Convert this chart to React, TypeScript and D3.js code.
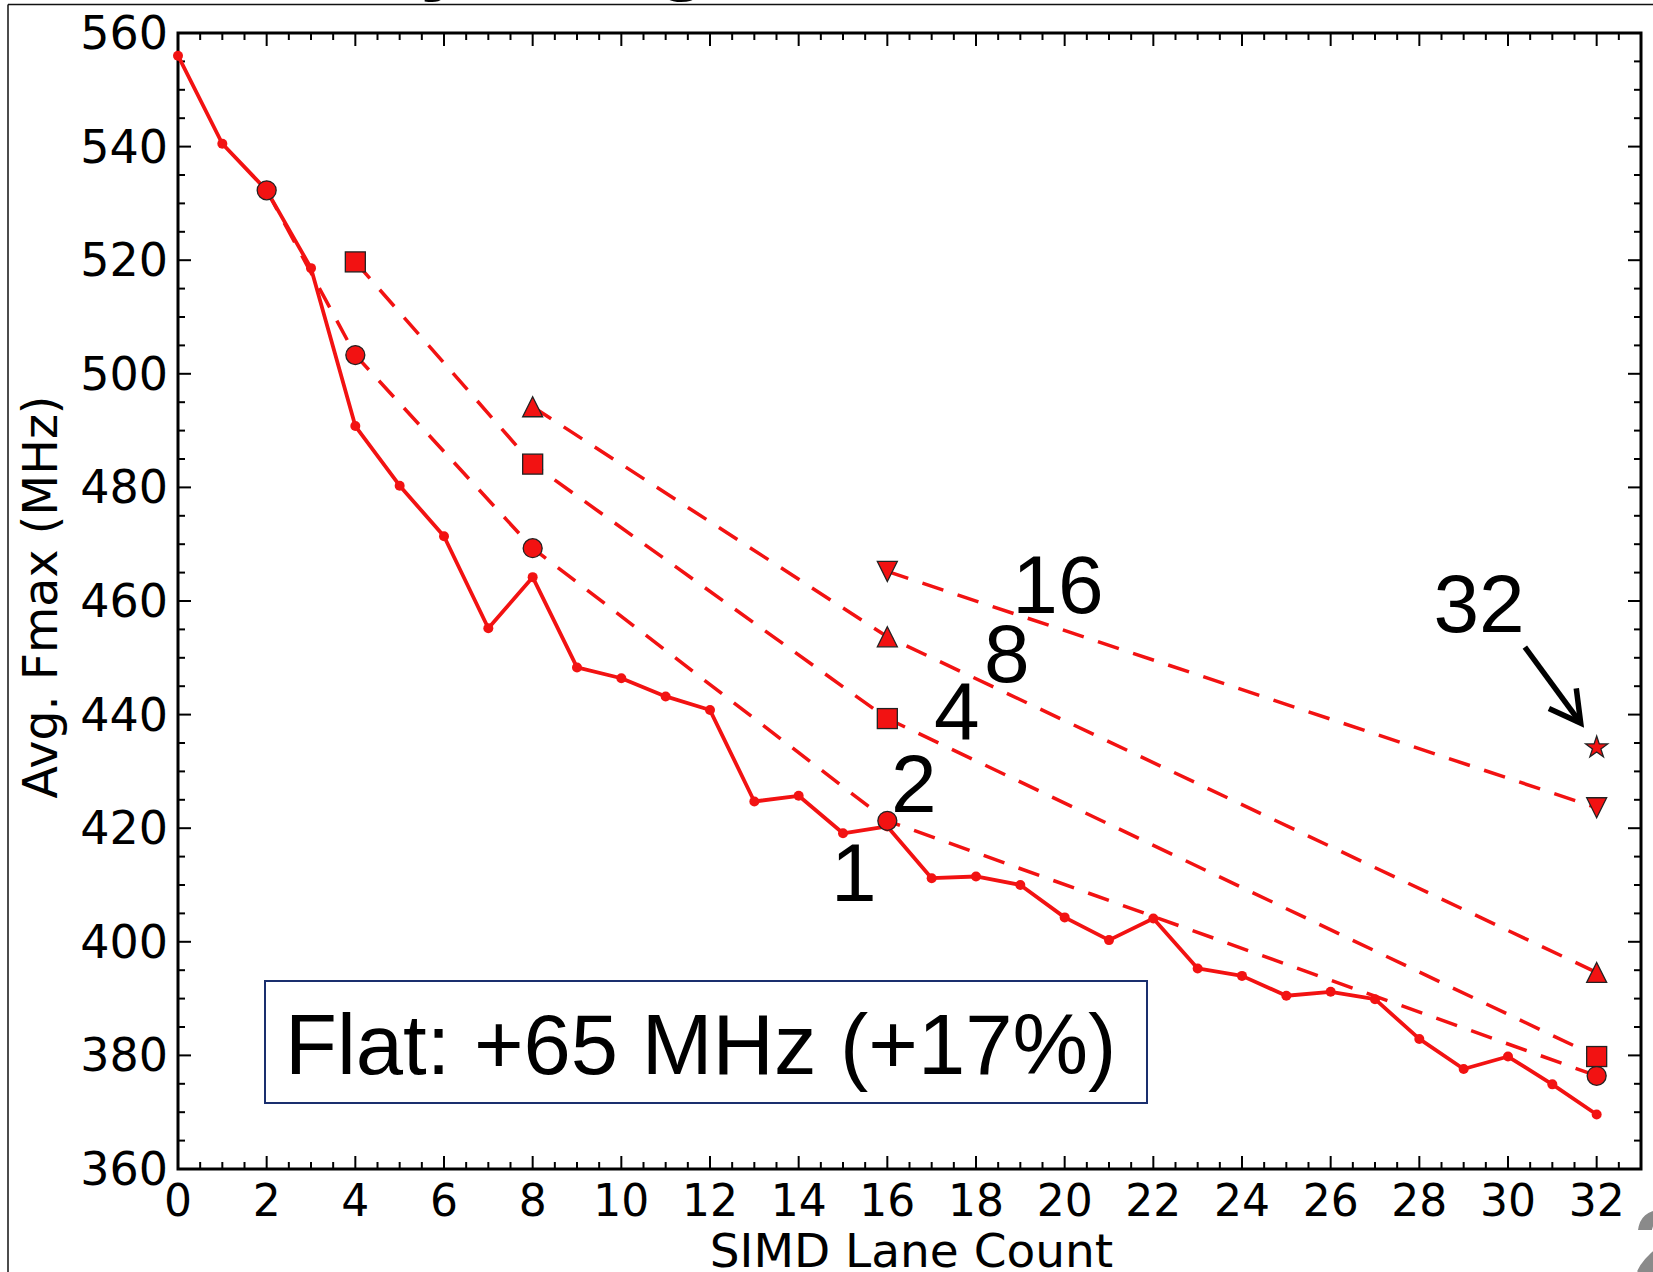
import React, { useEffect } from 'react';
import * as d3 from 'd3';

// ---- data ----
const laneCounts = [0, 1, 2, 3, 4, 5, 6, 7, 8, 9, 10, 11, 12, 13, 14, 15, 16, 17, 18, 19, 20, 21, 22, 23, 24, 25, 26, 27, 28, 29, 30, 31, 32];
const flatFmax = [556.0, 540.5, 532.3, 518.6, 490.8, 480.3, 471.4, 455.2, 464.2, 448.3, 446.4, 443.2, 440.8, 424.7, 425.7, 419.1, 420.3, 411.2, 411.5, 410.0, 404.3, 400.3, 404.1, 395.3, 394.0, 390.5, 391.2, 389.9, 382.9, 377.6, 379.8, 374.9, 369.6];

const group2X = [2, 4, 8, 16, 32];
const group2Y = [532.3, 503.3, 469.3, 421.3, 376.4];
const group4X = [4, 8, 16, 32];
const group4Y = [519.7, 484.1, 439.3, 379.8];
const group8X = [8, 16, 32];
const group8Y = [494.2, 453.7, 394.6];
const group16X = [16, 32];
const group16Y = [465.2, 423.6];
const group32X = [32];
const group32Y = [434.2];

const groupLabels = ['1', '2', '4', '8', '16', '32'];
const groupLabelX = [14.73, 16.08, 17.05, 18.18, 18.82, 28.32];
const groupLabelY = [407.1, 422.9, 435.5, 445.8, 457.9, 454.6];

const arrowFrom = [30.38, 451.9];
const arrowTo = [31.64, 438.5];

const xTickLabels = ['0', '2', '4', '6', '8', '10', '12', '14', '16', '18', '20', '22', '24', '26', '28', '30', '32'];
const yTickLabels = ['360', '380', '400', '420', '440', '460', '480', '500', '520', '540', '560'];

const xTitle = 'SIMD Lane Count';
const yTitle = 'Avg. Fmax (MHz)';
const boxText = 'Flat: +65 MHz (+17%)';

// ---- layout ----
const W = 1653;
const H = 1272;
const L = 178, R = 1641, T = 33, B = 1169;
const RED = '#f21212';
const DEJAVU = '"DejaVu Sans", sans-serif';
const ARIAL = '"Liberation Sans", Arial, sans-serif';

const x = d3.scaleLinear().domain([0, 33]).range([L, R]);
const y = d3.scaleLinear().domain([360, 560]).range([B, T]);

const pts = (xs: number[], ys: number[]) => xs.map((v, i) => [v, ys[i]] as [number, number]);
const lineGen = d3.line<[number, number]>().x(d => x(d[0])).y(d => y(d[1]));

const triUp = 'M0,-10L10,10L-10,10Z';
const triDown = 'M0,10L10,-10L-10,-10Z';
const star = d3.symbol(d3.symbolStar, 150)() as string;

export default function App() {
  useEffect(() => {
    document.body.style.margin = '0';
  }, []);

  const xMajor = xTickLabels.map(Number);
  const xMinor = d3.range(0, 33.01, 0.5).filter(v => Math.abs(v % 2) > 1e-6);
  const yMajor = yTickLabels.map(Number);
  const yMinor = d3.range(360, 560.01, 5).filter(v => v % 20 !== 0);

  const dashed: [number[], number[]][] = [
    [group2X, group2Y],
    [group4X, group4Y],
    [group8X, group8Y],
    [group16X, group16Y],
  ];

  // arrow head
  const ax1 = x(arrowFrom[0]), ay1 = y(arrowFrom[1]);
  const ax2 = x(arrowTo[0]), ay2 = y(arrowTo[1]);
  const ang = Math.atan2(ay1 - ay2, ax1 - ax2);
  const hl = 35, ha = (29 * Math.PI) / 180;
  const h1 = [ax2 + hl * Math.cos(ang + ha), ay2 + hl * Math.sin(ang + ha)];
  const h2 = [ax2 + hl * Math.cos(ang - ha), ay2 + hl * Math.sin(ang - ha)];

  return (
    <svg width={W} height={H} style={{ position: 'absolute', left: 0, top: 0, background: '#fff' }}>
      <rect x={0} y={0} width={W} height={H} fill="#fff" />
      {/* slide remnants */}
      <text x={420} y={-17} fontFamily={ARIAL} fontWeight="bold" fontSize={90} fill="#000">y</text>
      <text x={655} y={-17} fontFamily={ARIAL} fontWeight="bold" fontSize={90} fill="#000">g</text>
      <line x1={8} y1={4.5} x2={W} y2={4.5} stroke="#111" strokeWidth={1.5} />
      <line x1={8} y1={4.5} x2={8} y2={H} stroke="#111" strokeWidth={1.5} />
      <text x={1634} y={1280} fontFamily={ARIAL} fontWeight="bold" fontSize={100} fill="#8a8a8a">2</text>

      {/* ticks */}
      <g stroke="#000" strokeWidth={2}>
        {xMajor.map(v => (
          <g key={'xM' + v}>
            <line x1={x(v)} x2={x(v)} y1={B} y2={B - 13} />
            <line x1={x(v)} x2={x(v)} y1={T} y2={T + 13} />
          </g>
        ))}
        {xMinor.map(v => (
          <g key={'xm' + v}>
            <line x1={x(v)} x2={x(v)} y1={B} y2={B - 7} />
            <line x1={x(v)} x2={x(v)} y1={T} y2={T + 7} />
          </g>
        ))}
        {yMajor.map(v => (
          <g key={'yM' + v}>
            <line x1={L} x2={L + 13} y1={y(v)} y2={y(v)} />
            <line x1={R} x2={R - 13} y1={y(v)} y2={y(v)} />
          </g>
        ))}
        {yMinor.map(v => (
          <g key={'ym' + v}>
            <line x1={L} x2={L + 7} y1={y(v)} y2={y(v)} />
            <line x1={R} x2={R - 7} y1={y(v)} y2={y(v)} />
          </g>
        ))}
      </g>
      <rect x={L} y={T} width={R - L} height={B - T} fill="none" stroke="#000" strokeWidth={3} />

      {/* tick labels */}
      <g fontFamily={DEJAVU} fill="#000">
        {xTickLabels.map(t => (
          <text key={'xl' + t} x={x(+t)} y={B + 47} textAnchor="middle" fontSize={44}>{t}</text>
        ))}
        {yTickLabels.map(t => (
          <text key={'yl' + t} x={L - 10} y={y(+t) + 16} textAnchor="end" fontSize={46}>{t}</text>
        ))}
      </g>
      <text x={(L + R) / 2 + 2} y={1267} textAnchor="middle" fontFamily={DEJAVU} fontSize={47}>{xTitle}</text>
      <text transform={`translate(57,${597}) rotate(-90)`} textAnchor="middle" fontFamily={DEJAVU} fontSize={47.5}>{yTitle}</text>

      {/* dashed group lines */}
      {dashed.map(([xs, ys], i) => (
        <path key={'d' + i} d={lineGen(pts(xs, ys)) as string} fill="none" stroke={RED} strokeWidth={3.5} strokeDasharray="22 15" />
      ))}

      {/* flat line */}
      <path d={lineGen(pts(laneCounts, flatFmax)) as string} fill="none" stroke={RED} strokeWidth={3.8} strokeLinejoin="round" />
      {laneCounts.map((v, i) => (
        <circle key={'f' + v} cx={x(v)} cy={y(flatFmax[i])} r={5} fill={RED} />
      ))}

      {/* group markers */}
      {group2X.map((v, i) => (
        <circle key={'c' + v} cx={x(v)} cy={y(group2Y[i])} r={9.5} fill={RED} stroke="#222" strokeWidth={1.3} />
      ))}
      {group4X.map((v, i) => (
        <rect key={'s' + v} x={x(v) - 10} y={y(group4Y[i]) - 10} width={20} height={20} fill={RED} stroke="#222" strokeWidth={1.3} />
      ))}
      {group8X.map((v, i) => (
        <path key={'u' + v} d={triUp} transform={`translate(${x(v)},${y(group8Y[i])})`} fill={RED} stroke="#222" strokeWidth={1.3} />
      ))}
      {group16X.map((v, i) => (
        <path key={'v' + v} d={triDown} transform={`translate(${x(v)},${y(group16Y[i])})`} fill={RED} stroke="#222" strokeWidth={1.3} />
      ))}
      {group32X.map((v, i) => (
        <path key={'st' + v} d={star} transform={`translate(${x(v)},${y(group32Y[i])})`} fill={RED} stroke="#222" strokeWidth={1.3} />
      ))}

      {/* group labels */}
      {groupLabels.map((t, i) => (
        <text key={'g' + t} x={x(groupLabelX[i])} y={y(groupLabelY[i])} fontFamily={ARIAL} fontSize={82} fill="#000">{t}</text>
      ))}

      {/* arrow */}
      <g stroke="#000" strokeWidth={5.5} fill="none" strokeLinecap="butt">
        <line x1={ax1} y1={ay1} x2={ax2} y2={ay2} />
        <polyline points={`${h1[0]},${h1[1]} ${ax2},${ay2} ${h2[0]},${h2[1]}`} strokeLinejoin="miter" />
      </g>

      {/* note box */}
      <rect x={265} y={981} width={882} height={122} fill="#fff" stroke="#1a2f6e" strokeWidth={2} />
      <text x={285} y={1074} fontFamily={ARIAL} fontSize={85} fill="#000">{boxText}</text>
    </svg>
  );
}
